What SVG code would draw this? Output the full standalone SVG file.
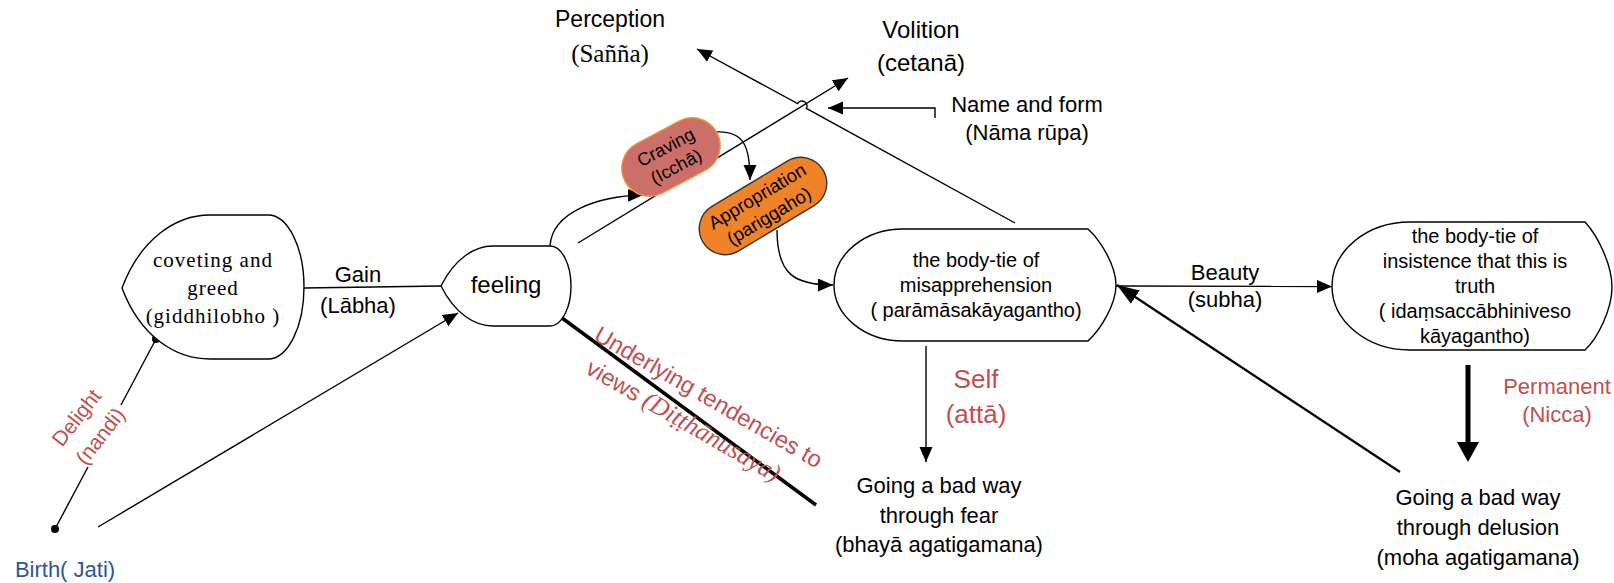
<svg xmlns="http://www.w3.org/2000/svg" width="1614" height="583" viewBox="0 0 1614 583">
<defs>
<marker id="ah" markerUnits="userSpaceOnUse" markerWidth="16" markerHeight="14" refX="15" refY="6.5" orient="auto"><path d="M0,0 L15,6.5 L0,13 Z" fill="#000"/></marker>
<marker id="ahb" markerUnits="userSpaceOnUse" markerWidth="24" markerHeight="18" refX="22" refY="8" orient="auto"><path d="M0,0 L22,8 L0,16 Z" fill="#000"/></marker>
</defs>
<style>
.shape{fill:#fff;stroke:#000;stroke-width:1.4}
.ln{fill:none;stroke:#000;stroke-width:1.4}
.t{font-family:"Liberation Sans",Arial,sans-serif;fill:#000;text-anchor:middle}
.sf{font-family:"Liberation Serif","Times New Roman",serif}
.red{fill:#C0504D}
.blue{fill:#2E5597}
.dot{fill:#000}
</style>
<rect width="1614" height="583" fill="#fff"/>

<g id="connectors">
  <line class="ln" x1="55" y1="529" x2="88" y2="467"/>
  <line class="ln" x1="121" y1="405" x2="156" y2="339"/>
  <circle class="dot" cx="55" cy="529" r="4"/>
  <circle class="dot" cx="156" cy="339" r="4"/>
  <line class="ln" x1="98" y1="527" x2="458" y2="313" marker-end="url(#ah)"/>
  <line class="ln" x1="304" y1="288" x2="441" y2="286"/>
  <path class="ln" d="M550,246 C552,212 598,196 643,195" marker-end="url(#ah)"/>
  <path class="ln" d="M715,132 C745,130 750,148 750,180" marker-end="url(#ah)"/>
  <path class="ln" d="M777,230 C777,275 795,285 833,285" marker-end="url(#ah)"/>
  <line class="ln" x1="578" y1="243" x2="848" y2="78" marker-end="url(#ah)"/>
  <path class="ln" d="M1015,223 L806.4,108.4 A5,5 0 0 0 797.6,103.6 L697,49" marker-end="url(#ah)"/>
  <path class="ln" d="M935,118 L935,108 L828,108" marker-end="url(#ah)"/>
  <line x1="558" y1="315" x2="816" y2="505" stroke="#000" stroke-width="3.5"/>
  <line class="ln" x1="926" y1="346" x2="926" y2="462" marker-end="url(#ah)"/>
  <line class="ln" x1="1116" y1="286" x2="1332" y2="286.5" marker-end="url(#ah)"/>
  <line x1="1400" y1="472" x2="1117" y2="285" stroke="#000" stroke-width="2.2" marker-end="url(#ahb)"/>
  <line x1="1468" y1="365" x2="1468" y2="444" stroke="#000" stroke-width="5"/>
  <polygon points="1457,442 1479,442 1468,462" fill="#000"/>
</g>

<g id="node-coveting">
  <path class="shape" d="M122,288 C140,240 175,215 210,215 L268,215 A36,72 0 0 1 268,359 L210,359 C175,359 140,336 122,288 Z"/>
  <text class="t sf" font-size="21" letter-spacing="1"><tspan x="213" y="267">coveting and</tspan><tspan x="213" y="295">greed</tspan><tspan x="213" y="323">(giddhilobho )</tspan></text>
</g>

<g id="node-feeling">
  <path class="shape" d="M441,286 C455,258 475,246 493,246 L550,246 A21,40 0 0 1 550,326 L493,326 C475,326 455,314 441,286 Z"/>
  <text class="t" x="506" y="293" font-size="24">feeling</text>
</g>

<g id="node-craving">
  <g transform="translate(671,157) rotate(-28)">
    <rect x="-52" y="-28" width="104" height="56" rx="28" ry="28" fill="#CD6F69" stroke="#F0963C" stroke-width="1.4"/>
    <text class="t" font-size="18"><tspan x="0" y="-5">Craving</tspan><tspan x="0" y="17">(Icchā)</tspan></text>
  </g>
</g>

<g id="node-appropriation">
  <g transform="translate(763,206) rotate(-31)">
    <rect x="-70" y="-26" width="140" height="52" rx="26" ry="26" fill="#F08228" stroke="#333" stroke-width="1.4"/>
    <text class="t" font-size="18.5"><tspan x="0" y="-5">Appropriation</tspan><tspan x="0" y="18">(pariggaho)</tspan></text>
  </g>
</g>

<g id="node-misapprehension">
  <path class="shape" d="M903,229 L1088,229 C1100,240 1116,265 1116,285 C1116,305 1100,330 1088,341 L903,341 A69,56 0 0 1 903,229 Z"/>
  <text class="t" font-size="20"><tspan x="976" y="267">the body-tie of</tspan><tspan x="976" y="292">misapprehension</tspan><tspan x="976" y="317">( parāmāsakāyagantho)</tspan></text>
</g>

<g id="node-insistence">
  <path class="shape" d="M1410,222 L1585,222 C1598,236 1612,265 1612,287 C1612,309 1598,338 1585,350 L1410,350 A78,64 0 0 1 1410,222 Z"/>
  <text class="t" font-size="20"><tspan x="1475" y="243">the body-tie of</tspan><tspan x="1475" y="268">insistence that this is</tspan><tspan x="1475" y="293">truth</tspan><tspan x="1475" y="318">( idaṃsaccābhiniveso</tspan><tspan x="1475" y="343">kāyagantho)</tspan></text>
</g>

<g id="node-birth">
  <text class="t blue" x="65" y="577" font-size="22">Birth( Jati)</text>
</g>

<g id="node-perception">
  <text class="t" x="610" y="27" font-size="23">Perception</text>
  <text class="t sf" x="610" y="62" font-size="25">(Sañña)</text>
</g>

<g id="node-volition">
  <text class="t" font-size="24"><tspan x="921" y="38">Volition</tspan><tspan x="921" y="71">(cetanā)</tspan></text>
</g>

<g id="node-namerupa">
  <text class="t" font-size="22"><tspan x="1027" y="112">Name and form</tspan><tspan x="1027" y="140">(Nāma rūpa)</tspan></text>
</g>

<g id="node-fear">
  <text class="t" font-size="22"><tspan x="939" y="493">Going a bad way</tspan><tspan x="939" y="523">through fear</tspan><tspan x="939" y="552">(bhayā agatigamana)</tspan></text>
</g>

<g id="node-delusion">
  <text class="t" font-size="22"><tspan x="1478" y="505">Going a bad way</tspan><tspan x="1478" y="535">through delusion</tspan><tspan x="1478" y="565">(moha agatigamana)</tspan></text>
</g>

<g id="labels">
  <text class="t" font-size="22"><tspan x="358" y="282">Gain</tspan><tspan x="358" y="313">(Lābha)</tspan></text>
  <text class="t" font-size="22"><tspan x="1225" y="280">Beauty</tspan><tspan x="1225" y="307">(subha)</tspan></text>
  <text class="t red" font-size="26"><tspan x="976" y="388">Self</tspan><tspan x="976" y="423">(attā)</tspan></text>
  <text class="t red" font-size="22"><tspan x="1557" y="394">Permanent</tspan><tspan x="1557" y="422">(Nicca)</tspan></text>
  <text class="t red" font-size="21" transform="translate(88.5,427) rotate(-52)"><tspan x="0" y="-8">Delight</tspan><tspan x="0" y="22">(nandi)</tspan></text>
  <text class="t red" font-size="23.5" transform="translate(708,398) rotate(30)"><tspan x="0" y="7">Underlying tendencies to</tspan><tspan x="-10" y="40">views <tspan class="sf" font-style="italic" font-size="25.5">(Diṭṭhānusaya)</tspan></tspan></text>
</g>
</svg>
